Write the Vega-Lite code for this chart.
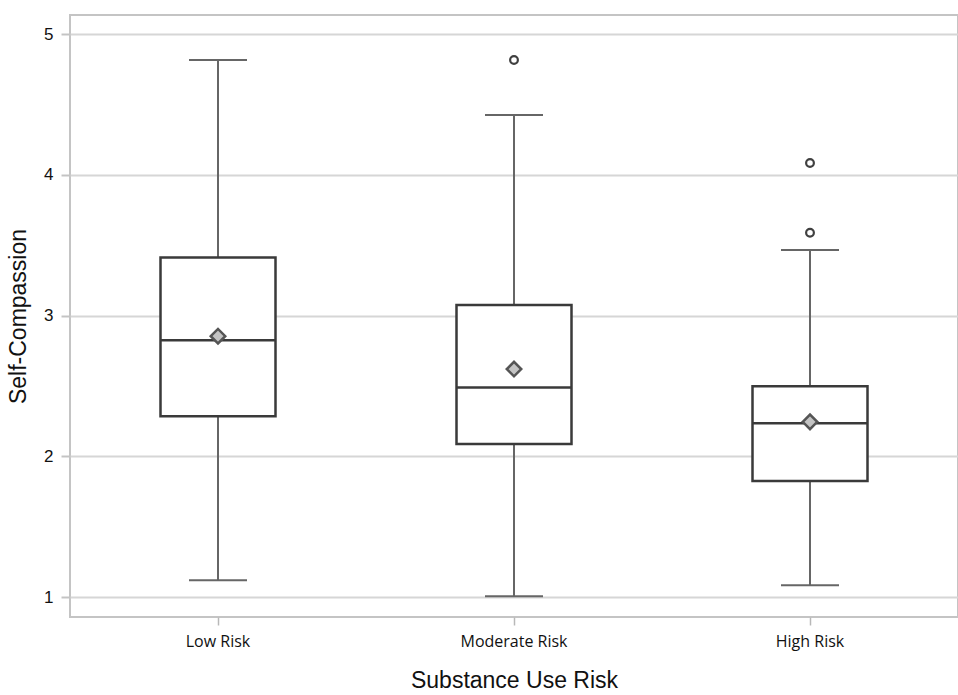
{
  "$schema": "https://vega.github.io/schema/vega-lite/v6.json",
  "width": 888,
  "height": 602,
  "autosize": {"type": "none"},
  "padding": {"left": 70, "top": 15, "right": 0, "bottom": 78},
  "background": "white",
  "datasets": {
    "stats": [
      {"risk": "Low Risk", "lower": 1.12, "q1": 2.285, "median": 2.826, "q3": 3.414, "upper": 4.817, "mean": 2.854},
      {"risk": "Moderate Risk", "lower": 1.005, "q1": 2.087, "median": 2.49, "q3": 3.075, "upper": 4.426, "mean": 2.62},
      {"risk": "High Risk", "lower": 1.083, "q1": 1.825, "median": 2.236, "q3": 2.498, "upper": 3.466, "mean": 2.245}
    ],
    "outliers": [
      {"risk": "Moderate Risk", "value": 4.817},
      {"risk": "High Risk", "value": 4.085},
      {"risk": "High Risk", "value": 3.589}
    ]
  },
  "data": {"name": "stats"},
  "encoding": {
    "x": {
      "field": "risk",
      "type": "nominal",
      "sort": ["Low Risk", "Moderate Risk", "High Risk"],
      "scale": {"paddingInner": 0, "paddingOuter": 0},
      "axis": {
        "title": "Substance Use Risk",
        "labelAngle": 0,
        "labelFont": "Open Sans",
        "labelFontSize": 16,
        "labelColor": "#111111",
        "labelPadding": 8,
        "tickSize": 8,
        "tickColor": "#b8b8b8",
        "tickWidth": 1.5,
        "domain": false,
        "grid": false,
        "titleFont": "Liberation Sans",
        "titleFontSize": 23,
        "titleFontWeight": "normal",
        "titleColor": "#111111",
        "titlePadding": 20
      }
    }
  },
  "layer": [
    {
      "mark": {"type": "rule", "color": "#666666", "strokeWidth": 2},
      "encoding": {
        "y": {
          "field": "lower",
          "type": "quantitative",
          "scale": {"domain": [0.858, 5.137], "nice": false, "zero": false},
          "axis": {
            "title": "Self-Compassion",
            "values": [1, 2, 3, 4, 5],
            "format": "d",
            "labelFont": "Liberation Sans",
            "labelFontSize": 17,
            "labelColor": "#111111",
            "labelPadding": 8,
            "tickSize": 9,
            "tickColor": "#c4c4c4",
            "tickWidth": 2,
            "domain": false,
            "grid": true,
            "gridColor": "#d6d6d6",
            "gridWidth": 2,
            "titleFont": "Liberation Sans",
            "titleFontSize": 23,
            "titleFontWeight": "normal",
            "titleColor": "#111111",
            "titlePadding": 13
          }
        },
        "y2": {"field": "q1"}
      }
    },
    {
      "mark": {"type": "rule", "color": "#666666", "strokeWidth": 2},
      "encoding": {
        "y": {"field": "q3", "type": "quantitative"},
        "y2": {"field": "upper"}
      }
    },
    {
      "mark": {"type": "tick", "color": "#666666", "opacity": 1, "thickness": 2, "size": 58, "orient": "horizontal"},
      "encoding": {"y": {"field": "lower", "type": "quantitative"}}
    },
    {
      "mark": {"type": "tick", "color": "#666666", "opacity": 1, "thickness": 2, "size": 58, "orient": "horizontal"},
      "encoding": {"y": {"field": "upper", "type": "quantitative"}}
    },
    {
      "mark": {"type": "bar", "fill": "white", "stroke": "#3a3a3a", "strokeWidth": 2.5, "size": 115},
      "encoding": {
        "y": {"field": "q1", "type": "quantitative"},
        "y2": {"field": "q3"}
      }
    },
    {
      "mark": {"type": "tick", "color": "#3a3a3a", "opacity": 1, "thickness": 2.5, "size": 115, "orient": "horizontal"},
      "encoding": {"y": {"field": "median", "type": "quantitative"}}
    },
    {
      "mark": {"type": "point", "shape": "diamond", "filled": true, "fill": "#c4c4c4", "stroke": "#555555", "strokeWidth": 2.5, "size": 210, "opacity": 1},
      "encoding": {"y": {"field": "mean", "type": "quantitative"}}
    },
    {
      "data": {"name": "outliers"},
      "mark": {"type": "point", "shape": "circle", "filled": false, "stroke": "#404040", "strokeWidth": 2.2, "size": 60, "opacity": 1},
      "encoding": {"y": {"field": "value", "type": "quantitative"}}
    }
  ],
  "config": {
    "view": {"stroke": "#c4c4c4", "strokeWidth": 2}
  }
}
